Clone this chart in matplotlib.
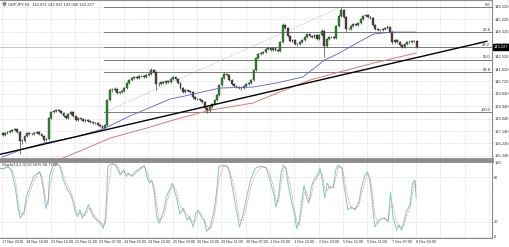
import matplotlib
matplotlib.use("Agg")
import matplotlib.pyplot as plt
import numpy as np

# GBPJPY H1, drawn as 2-hour candles (bar index = hours since 17 Nov 23:00)
closes = [136.83, 136.98, 137.05, 137.12, 137.19, 137.27, 137.05, 136.40, 136.40, 136.76,
          136.98, 136.90, 136.90, 136.98, 137.05, 136.90, 136.76, 136.47, 136.54, 138.06,
          138.50, 138.57, 138.64, 138.57, 138.43, 138.21, 138.06, 138.35, 138.50, 138.21,
          137.92, 138.06, 137.99, 137.85, 137.92, 137.85, 137.77, 137.70, 137.70, 137.56,
          137.48, 137.34, 137.56, 139.37, 140.10, 140.10, 140.17, 139.88, 139.95, 140.02,
          140.24, 140.60, 140.82, 140.97, 141.04, 140.97, 141.11, 141.11, 141.04, 141.18,
          141.26, 141.55, 141.40, 140.53, 140.53, 140.68, 140.60, 140.75, 140.68, 140.89,
          141.04, 140.89, 140.60, 140.24, 139.95, 140.10, 140.02, 139.95, 139.59, 139.44,
          139.44, 139.37, 139.23, 138.79, 138.57, 138.86, 139.08, 139.37, 139.73, 140.46,
          140.97, 141.26, 141.18, 140.82, 140.53, 140.39, 140.31, 140.24, 140.24, 140.39,
          140.53, 140.60, 140.82, 141.55, 142.42, 142.71, 142.78, 142.85, 143.07, 143.14,
          143.00, 143.14, 143.00, 142.93, 143.58, 144.81, 144.59, 144.02, 143.65, 143.73,
          143.43, 143.43, 143.58, 143.73, 143.94, 144.16, 144.02, 143.94, 144.09, 143.80,
          144.09, 144.38, 143.29, 143.80, 143.94, 143.94, 143.87, 144.74, 145.47, 145.90,
          145.39, 144.52, 144.52, 144.74, 144.89, 144.81, 144.96, 145.25, 145.47, 145.54,
          145.39, 145.32, 144.81, 144.52, 144.45, 144.45, 144.52, 144.59, 144.67, 144.30,
          143.58, 143.73, 143.58, 143.36, 143.22, 143.43, 143.58, 143.58, 143.65, 143.65,
          143.23]
highs = [137.08, 137.05, 137.12, 137.20, 137.26, 137.34, 137.31, 137.10, 136.55, 136.83,
         137.05, 137.06, 137.00, 137.06, 137.14, 137.10, 136.96, 136.82, 136.62, 138.14,
         138.60, 138.68, 138.75, 138.70, 138.62, 138.48, 138.27, 138.42, 138.58, 138.55,
         138.26, 138.14, 138.12, 138.05, 138.00, 137.98, 137.92, 137.84, 137.79, 137.76,
         137.62, 137.54, 137.63, 139.46, 140.22, 140.24, 140.28, 140.22, 140.04, 140.10,
         140.32, 140.68, 140.90, 141.05, 141.12, 141.10, 141.18, 141.20, 141.17, 141.26,
         141.34, 141.66, 141.62, 141.45, 140.65, 140.76, 140.74, 140.82, 140.80, 140.96,
         141.12, 141.10, 140.95, 140.66, 140.30, 140.18, 140.16, 140.08, 140.00, 139.66,
         139.53, 139.50, 139.43, 139.28, 138.86, 138.93, 139.16, 139.45, 139.82, 140.55,
         141.06, 141.38, 141.34, 141.24, 140.88, 140.60, 140.45, 140.38, 140.33, 140.46,
         140.60, 140.68, 140.90, 141.63, 142.52, 142.80, 142.88, 142.94, 143.15, 143.24,
         143.20, 143.22, 143.20, 143.06, 143.66, 144.96, 144.90, 144.66, 144.08, 143.82,
         143.79, 143.52, 143.66, 143.80, 144.02, 144.24, 144.22, 144.08, 144.16, 144.14,
         144.16, 144.50, 144.44, 143.88, 144.02, 144.03, 144.00, 144.82, 145.56, 146.10,
         145.96, 145.45, 144.62, 144.82, 144.97, 144.95, 145.04, 145.33, 145.56, 145.62,
         145.60, 145.46, 145.38, 144.88, 144.60, 144.54, 144.60, 144.66, 144.80, 144.72,
         144.36, 143.82, 143.80, 143.64, 143.42, 143.50, 143.66, 143.70, 143.76, 143.74,
         143.70]
lows = [136.76, 136.78, 136.93, 137.00, 137.06, 137.12, 136.98, 135.45, 136.20, 136.33,
        136.70, 136.84, 136.80, 136.84, 136.92, 136.84, 136.68, 136.35, 136.40, 136.48,
        137.98, 138.42, 138.50, 138.50, 138.36, 138.14, 137.98, 138.00, 138.28, 138.14,
        137.85, 137.86, 137.92, 137.78, 137.80, 137.78, 137.70, 137.63, 137.62, 137.50,
        137.42, 137.25, 137.28, 137.50, 139.30, 139.98, 140.02, 139.78, 139.80, 139.88,
        139.96, 140.18, 140.54, 140.76, 140.90, 140.90, 140.92, 141.02, 140.97, 140.98,
        141.12, 141.20, 141.30, 140.10, 140.40, 140.46, 140.52, 140.54, 140.60, 140.62,
        140.82, 140.82, 140.52, 140.16, 139.86, 139.88, 139.95, 139.88, 139.42, 139.36,
        139.36, 139.30, 139.15, 138.70, 138.46, 138.50, 138.80, 139.02, 139.30, 139.66,
        140.40, 140.90, 141.10, 140.74, 140.45, 140.32, 140.24, 140.16, 140.10, 140.18,
        140.33, 140.46, 140.54, 140.76, 141.48, 142.36, 142.64, 142.70, 142.78, 143.00,
        142.92, 142.94, 142.92, 142.84, 142.87, 143.52, 144.50, 143.94, 143.56, 143.58,
        143.36, 143.32, 143.36, 143.52, 143.66, 143.88, 143.95, 143.86, 143.88, 143.72,
        143.74, 144.02, 142.52, 143.20, 143.74, 143.86, 143.80, 143.80, 144.68, 145.40,
        145.30, 144.30, 144.44, 144.46, 144.68, 144.74, 144.75, 144.90, 145.18, 145.40,
        145.32, 145.25, 144.72, 144.44, 144.36, 144.36, 144.38, 144.46, 144.52, 144.22,
        143.42, 143.50, 143.50, 143.28, 143.12, 143.16, 143.36, 143.50, 143.52, 143.56,
        143.18]
first_open = 137.00

# moving averages, read at a few bars
ma_blue_t = [0, 15, 35, 60, 83, 105, 138, 150, 179, 206, 225, 247, 265, 277, 290, 305, 320, 340]
ma_blue = [135.23, 135.74, 136.25, 136.69, 137.27, 138.21, 139.44, 139.66, 140.24, 140.31,
           140.60, 141.04, 142.28, 142.78, 143.43, 144.16, 144.30, 144.30]
ma_red_t = [27, 46, 64, 89, 119, 138, 171, 206, 228, 253, 277, 305, 340]
ma_red = [134.29, 135.02, 135.67, 136.61, 137.34, 137.85, 138.64, 139.15, 139.95, 140.82,
          141.40, 142.05, 142.78]

trend_t = [-1, 398]
trend_p = [135.44, 143.63]

fib_t = [84, 278]
fib_p = [138.48, 146.10]
fib_levels = [0.0, 23.6, 38.2, 50.0, 61.8, 100.0]
bid = 143.227

price_ticks = [146.12, 145.22, 144.32, 143.42, 142.52, 141.62, 140.72, 139.82, 138.92,
               138.02, 137.12, 136.22, 135.32]
price_labels = ["146.120", "145.220", "144.320", "143.420", "142.520", "141.620", "140.720",
                "139.840", "138.940", "138.040", "137.140", "136.240", "135.340"]

time_ticks = list(range(0, 341, 20))
time_labels = ["17 Nov 2016", "18 Nov 19:00", "21 Nov 15:00", "22 Nov 11:00", "23 Nov 07:00",
               "24 Nov 03:00", "24 Nov 23:00", "25 Nov 19:00", "28 Nov 15:00", "29 Nov 11:00",
               "30 Nov 07:00", "1 Dec 03:00", "1 Dec 23:00", "2 Dec 19:00", "5 Dec 15:00",
               "6 Dec 11:00", "7 Dec 07:00", "8 Dec 03:00"]

# stochastic %K
stoch_t = [-2, 1, 5, 8, 11, 13, 15, 18, 20, 23, 26, 29, 31, 33, 34, 36, 38, 39, 42, 45,
           48, 50, 53, 56, 58, 60, 62, 64, 66, 68, 71, 73, 75, 78, 81, 83, 85, 87, 90, 93,
           96, 97, 100, 102, 104, 107, 109, 112, 115, 117, 119, 121, 123, 125, 127, 129,
           133, 135, 138, 140, 143, 146, 149, 152, 154, 157, 159, 161, 164, 166, 168, 171,
           174, 176, 178, 182, 185, 187, 190, 193, 195, 198, 201, 204, 208, 213, 217, 220,
           223, 225, 227, 229, 231, 233, 235, 238, 240, 242, 244, 246, 248, 250, 252, 254,
           256, 259, 261, 263, 265, 267, 269, 272, 274, 276, 279, 281, 284, 287, 290, 293,
           295, 298, 300, 302, 304, 306, 309, 312, 314, 317, 319, 321, 324, 326, 328, 330,
           332, 335, 337, 339, 340]
stoch_k = [92, 91, 95, 87, 65, 40, 25, 33, 54, 67, 81, 85, 87, 74, 63, 38, 49, 81, 96, 99,
           92, 78, 65, 58, 49, 34, 27, 36, 25, 31, 43, 34, 27, 22, 18, 11, 25, 94, 99, 96,
           87, 83, 90, 81, 85, 81, 87, 90, 94, 95, 81, 72, 76, 60, 27, 18, 36, 54, 65, 72,
           54, 31, 38, 22, 27, 13, 31, 36, 25, 22, 7, 13, 34, 58, 94, 96, 94, 85, 58, 31,
           13, 31, 54, 76, 92, 95, 92, 76, 58, 40, 54, 85, 96, 92, 69, 45, 31, 11, 20, 47,
           69, 52, 45, 67, 76, 83, 92, 76, 52, 72, 65, 67, 90, 96, 92, 67, 36, 40, 36, 47,
           65, 83, 87, 76, 47, 13, 22, 25, 25, 20, 60, 27, 9, 16, 9, 20, 34, 43, 72, 76, 52]
stoch_d = [stoch_k[0]] + [(a + b) / 2 for a, b in zip(stoch_k[:-1], stoch_k[1:])]

GRID = "#c8c8c8"
FRAME = "#8c8c8c"
TXT = "#333333"
FS = 2.9
plt.rcParams["font.family"] = ["Liberation Sans", "DejaVu Sans"]

fig = plt.figure(figsize=(5.10, 2.47), dpi=100)
ax = fig.add_axes([0.0, 1 - 159 / 247, 492 / 510, 159 / 247])
ax2 = fig.add_axes([0.0, 1 - 238 / 247, 492 / 510, 77 / 247])

xlim = (-1.64, 402.3)
for a in (ax, ax2):
    a.set_xlim(*xlim)
    a.set_facecolor("white")
    for s in a.spines.values():
        s.set_color(FRAME)
        s.set_linewidth(0.8)
    a.spines["left"].set_visible(False)
    a.set_xticks(list(range(0, 402, 20)))
    a.tick_params(axis="x", length=0, labelbottom=False)
    a.grid(True, color=GRID, linestyle=(0, (1, 1.5)), linewidth=0.5)
    a.set_axisbelow(True)
    a.yaxis.tick_right()
    a.tick_params(axis="y", length=1, width=0.5, color=FRAME, labelsize=FS, pad=0.6,
                  labelcolor=TXT)

ax.set_ylim(135.09, 146.627)
ax.set_yticks(price_ticks)
ax.set_yticklabels(price_labels)
ax.spines["bottom"].set_linewidth(2)

# candles
t = np.arange(len(closes)) * 2 + 0.5
opens = [first_open] + closes[:-1]
for ti, o, h, l, c in zip(t, opens, highs, lows, closes):
    up = c >= o
    col = "#2f8f2f" if up else "#5b4040"
    ax.vlines(ti, l, h, color="#303030", linewidth=0.45, zorder=3)
    ax.bar(ti, max(abs(c - o), 0.02), bottom=min(o, c), width=1.5,
           color=col, edgecolor="#202020", linewidth=0.25, zorder=4)

ax.plot(ma_blue_t, ma_blue, color="#5c5cd6", linewidth=0.6, zorder=5)
ax.plot(ma_red_t, ma_red, color="#e07878", linewidth=0.7, zorder=5)
ax.plot(trend_t, trend_p, color="black", linewidth=1.0, zorder=6)

# bid line
ax.axhline(bid, color="#b0b0b0", linewidth=0.5, zorder=2)

# fibonacci retracement
lo, hi = fib_p
for lv in fib_levels:
    p = hi - (hi - lo) * lv / 100
    ax.plot([fib_t[0], xlim[1]], [p, p], color="#7a7a7a", linewidth=0.7, zorder=2)
    ax.text(xlim[1] - 1.5, p + 0.03, f"{lv:.1f}", fontsize=FS, color=TXT,
            ha="right", va="bottom", zorder=7)
ax.plot(fib_t, fib_p, color="#9a9a9a", linewidth=0.5, linestyle=(0, (1, 1.5)), zorder=2)

# bid price box
ax.text(1.003, bid, "143.227", transform=ax.get_yaxis_transform(), fontsize=FS,
        color="white", ha="left", va="center", zorder=8, clip_on=False,
        bbox=dict(boxstyle="square,pad=0.2", fc="black", ec="black"))

# symbol header with its small marker
ax.plot([0.008], [0.975], marker="v", markersize=2.2, color="#808080",
        transform=ax.transAxes, clip_on=False)
ax.text(0.016, 0.985, "GBPJPY,H1  143.632 143.632 143.068 143.227", transform=ax.transAxes,
        fontsize=FS, color=TXT, ha="left", va="top")

# stochastic panel
ax2.set_ylim(-1.7, 101.7)
ax2.set_yticks([100, 80, 20, 0])
ax2.set_yticklabels(["100", "80", "20", "0"])
ax2.spines["top"].set_linewidth(2)
ax2.plot(stoch_t, stoch_k, color="#7ec8c8", linewidth=0.7, zorder=3)
ax2.plot(stoch_t, stoch_d, color="#e06060", linewidth=0.5, linestyle=(0, (1, 1.2)), zorder=4)
ax2.text(0.005, 0.98, "Stoch(14,3,3) 50.5476 66.7720", transform=ax2.transAxes,
         fontsize=FS, color=TXT, ha="left", va="top")

for tt, lab in zip(time_ticks, time_labels):
    ax2.text(tt, -4.0, lab, fontsize=FS * 0.93, color=TXT, ha="left", va="top", clip_on=False)

fig.savefig("out.png", dpi=100)
